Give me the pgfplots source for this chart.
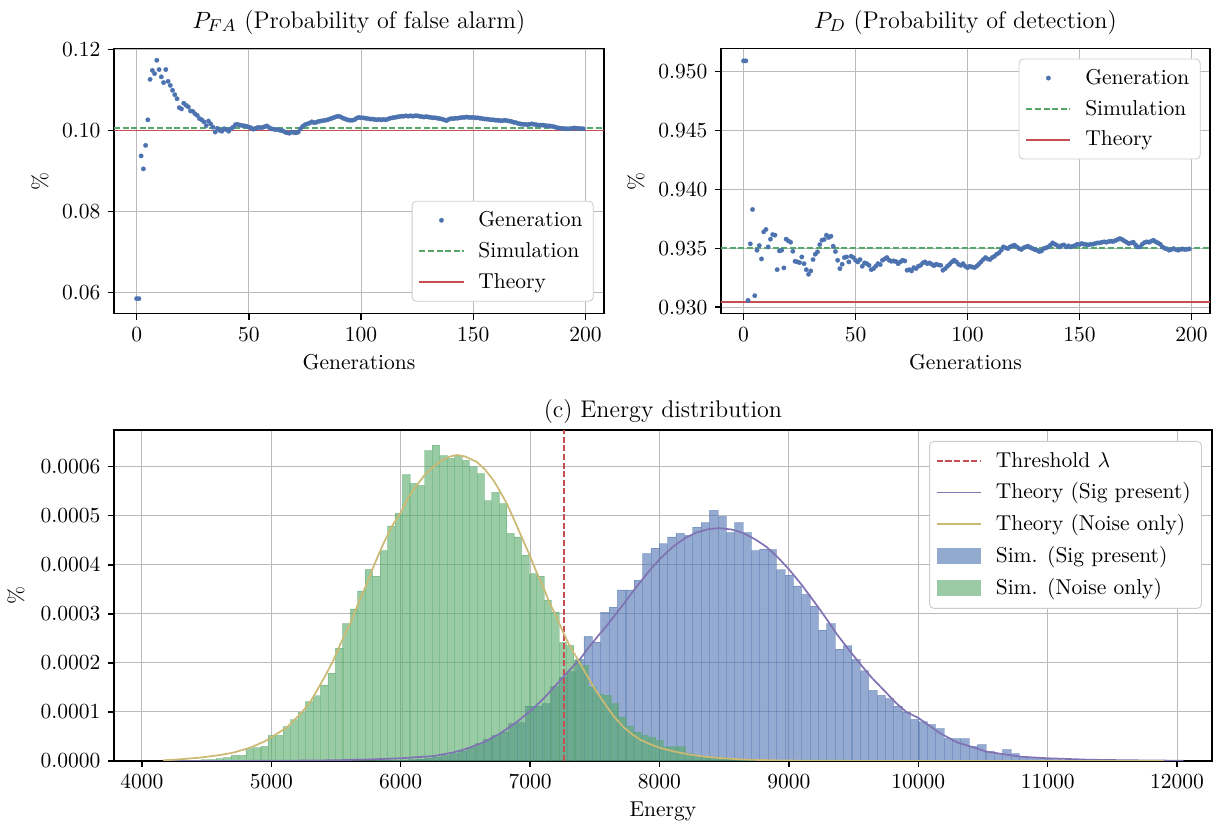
\documentclass[border=0pt]{standalone}
\usepackage{pgfplots}
\usepackage{pgfplotstable}
\pgfplotsset{compat=1.18}

% seaborn "deep" palette
\definecolor{sbblue}{HTML}{4C72B0}
\definecolor{sbgreen}{HTML}{55A868}
\definecolor{sbred}{HTML}{C44E52}
\definecolor{sbpurple}{HTML}{8172B3}
\definecolor{sbyellow}{HTML}{CCB974}

% running estimate of the false-alarm probability per generation
\pgfplotstableread{
g p
0 0.0585
1 0.0585
2 0.0937
3 0.0905
4 0.0963
5 0.1026
6 0.1126
7 0.1148
8 0.1140
9 0.1173
10 0.1150
11 0.1132
12 0.1118
13 0.1150
14 0.1121
15 0.1111
16 0.1099
17 0.1088
18 0.1078
19 0.1056
20 0.1053
21 0.1067
22 0.1062
23 0.1058
24 0.1048
25 0.1047
26 0.1041
27 0.1037
28 0.1029
29 0.1026
30 0.1021
31 0.1012
32 0.1023
33 0.1016
34 0.1008
35 0.0996
36 0.1005
37 0.1000
38 0.0998
39 0.1004
40 0.1002
41 0.0998
42 0.1004
43 0.1008
44 0.1014
45 0.1015
46 0.1013
47 0.1012
48 0.1011
49 0.1010
50 0.1008
51 0.1006
52 0.1003
53 0.1005
54 0.1007
55 0.1007
56 0.1007
57 0.1009
58 0.1011
59 0.1007
60 0.1004
61 0.1003
62 0.1002
63 0.1002
64 0.1000
65 0.0999
66 0.0996
67 0.0994
68 0.0993
69 0.0996
70 0.0995
71 0.0994
72 0.0996
73 0.1004
74 0.1010
75 0.1014
76 0.1016
77 0.1018
78 0.1021
79 0.1019
80 0.1020
81 0.1022
82 0.1023
83 0.1024
84 0.1025
85 0.1026
86 0.1028
87 0.1030
88 0.1032
89 0.1034
90 0.1035
91 0.1033
92 0.1030
93 0.1028
94 0.1026
95 0.1025
96 0.1025
97 0.1026
98 0.1030
99 0.1032
100 0.1031
101 0.1031
102 0.1030
103 0.1029
104 0.1028
105 0.1028
106 0.1027
107 0.1026
108 0.1027
109 0.1026
110 0.1027
111 0.1026
112 0.1028
113 0.1030
114 0.1031
115 0.1032
116 0.1033
117 0.1034
118 0.1035
119 0.1035
120 0.1036
121 0.1035
122 0.1036
123 0.1035
124 0.1036
125 0.1036
126 0.1035
127 0.1034
128 0.1033
129 0.1034
130 0.1033
131 0.1032
132 0.1031
133 0.1031
134 0.1030
135 0.1029
136 0.1028
137 0.1026
138 0.1024
139 0.1027
140 0.1029
141 0.1029
142 0.1030
143 0.1030
144 0.1031
145 0.1032
146 0.1032
147 0.1033
148 0.1032
149 0.1032
150 0.1032
151 0.1031
152 0.1031
153 0.1030
154 0.1029
155 0.1028
156 0.1028
157 0.1027
158 0.1026
159 0.1026
160 0.1025
161 0.1025
162 0.1024
163 0.1024
164 0.1025
165 0.1024
166 0.1023
167 0.1022
168 0.1020
169 0.1019
170 0.1017
171 0.1016
172 0.1015
173 0.1015
174 0.1014
175 0.1015
176 0.1016
177 0.1015
178 0.1014
179 0.1013
180 0.1013
181 0.1013
182 0.1012
183 0.1011
184 0.1011
185 0.1010
186 0.1009
187 0.1007
188 0.1006
189 0.1005
190 0.1005
191 0.1004
192 0.1004
193 0.1004
194 0.1005
195 0.1006
196 0.1005
197 0.1005
198 0.1004
199 0.1004
}\pfa

% running estimate of the detection probability per generation
\pgfplotstableread{
g p
0 0.9509
1 0.9509
2 0.93057
3 0.93537
4 0.93829
5 0.93097
6 0.93483
7 0.93523
8 0.93409
9 0.93639
10 0.93659
11 0.93511
12 0.93577
13 0.93616
14 0.93611
15 0.93318
16 0.93477
17 0.93483
18 0.93333
19 0.93577
20 0.93562
21 0.93551
22 0.93474
23 0.93389
24 0.93384
25 0.93378
26 0.93426
27 0.93369
28 0.93318
29 0.93279
30 0.93307
31 0.93404
32 0.93449
33 0.93469
34 0.93531
35 0.93568
36 0.93574
37 0.93611
38 0.93591
39 0.93602
40 0.93517
41 0.93472
42 0.93398
43 0.93327
44 0.93364
45 0.93421
46 0.93426
47 0.93384
48 0.93432
49 0.93421
50 0.93398
51 0.93384
52 0.93404
53 0.93347
54 0.93375
55 0.93369
56 0.93355
57 0.93318
58 0.93327
59 0.93347
60 0.93369
61 0.93361
62 0.93398
63 0.93409
64 0.93421
65 0.93398
66 0.93389
67 0.93392
68 0.93387
69 0.93369
70 0.93384
71 0.93398
72 0.93392
73 0.93313
74 0.93318
75 0.93307
76 0.93335
77 0.93327
78 0.93347
79 0.93355
80 0.93375
81 0.93384
82 0.93369
83 0.93375
84 0.93364
85 0.93352
86 0.93364
87 0.93358
88 0.93355
89 0.93313
90 0.93327
91 0.93347
92 0.93364
93 0.93384
94 0.93398
95 0.93384
96 0.93364
97 0.93355
98 0.93369
99 0.93347
100 0.93335
101 0.93347
102 0.93341
103 0.93335
104 0.93347
105 0.93364
106 0.93384
107 0.93404
108 0.93421
109 0.93409
110 0.93404
111 0.93421
112 0.93432
113 0.93449
114 0.93460
115 0.93483
116 0.93511
117 0.93503
118 0.93497
119 0.93511
120 0.93520
121 0.93526
122 0.93511
123 0.93497
124 0.93489
125 0.93503
126 0.93511
127 0.93517
128 0.93506
129 0.93497
130 0.93489
131 0.93483
132 0.93472
133 0.93477
134 0.93497
135 0.93503
136 0.93511
137 0.93526
138 0.93545
139 0.93534
140 0.93523
141 0.93511
142 0.93523
143 0.93528
144 0.93511
145 0.93520
146 0.93511
147 0.93517
148 0.93523
149 0.93534
150 0.93531
151 0.93540
152 0.93534
153 0.93531
154 0.93528
155 0.93534
156 0.93534
157 0.93540
158 0.93545
159 0.93545
160 0.93551
161 0.93554
162 0.93551
163 0.93557
164 0.93560
165 0.93557
166 0.93565
167 0.93574
168 0.93582
169 0.93574
170 0.93562
171 0.93551
172 0.93540
173 0.93545
174 0.93551
175 0.93528
176 0.93511
177 0.93511
178 0.93534
179 0.93548
180 0.93554
181 0.93551
182 0.93560
183 0.93568
184 0.93554
185 0.93545
186 0.93534
187 0.93511
188 0.93500
189 0.93494
190 0.93483
191 0.93489
192 0.93497
193 0.93489
194 0.93483
195 0.93489
196 0.93494
197 0.93489
198 0.93491
199 0.93494
}\pd

% simulated energy, signal present: bin centre and density (bin width 64.7)
\pgfplotstableread{
e d
5831 0.0000005
5896 0.000001
5961 0.0000015
6025 0.000002
6090 0.000003
6155 0.000004
6219 0.000006
6284 0.000008
6349 0.000011
6414 0.000015
6478 0.000020
6543 0.000027
6608 0.000035
6672 0.000044
6737 0.000052
6802 0.000059
6866 0.000076
6931 0.000078
6996 0.000112
7060 0.000112
7125 0.000117
7190 0.000152
7255 0.000171
7319 0.000182
7384 0.000207
7449 0.000254
7513 0.000243
7578 0.000303
7643 0.000314
7708 0.000349
7772 0.000349
7837 0.000369
7902 0.000423
7966 0.000434
8031 0.000443
8096 0.000457
8160 0.000464
8225 0.000460
8290 0.000477
8354 0.000486
8419 0.000511
8484 0.000499
8549 0.000466
8613 0.000486
8678 0.000466
8743 0.000429
8807 0.000432
8872 0.000431
8937 0.000390
9002 0.000379
9066 0.000357
9131 0.000340
9196 0.000316
9260 0.000267
9325 0.000280
9390 0.000228
9454 0.000235
9519 0.000207
9584 0.000184
9649 0.000144
9713 0.000134
9778 0.000127
9843 0.000112
9907 0.000100
9972 0.0000847
10037 0.0000800
10101 0.0000740
10166 0.0000660
10231 0.0000460
10296 0.0000456
10360 0.0000456
10425 0.0000300
10490 0.0000333
10554 0.0000197
10619 0.0000150
10684 0.0000231
10748 0.0000150
10813 0.0000095
10878 0.0000068
10942 0.0000050
11007 0.0000034
11072 0.0000025
11137 0.0000018
11201 0.0000012
11266 0.0000008
11331 0.0000005
11395 0.0000004
}\histsig

% simulated energy, noise only: bin centre and density (bin width 57.6)
\pgfplotstableread{
e d
4314 0.0000005
4371 0.000001
4429 0.0000015
4487 0.0000025
4544 0.000003
4602 0.000005
4660 0.000007
4717 0.0000116
4775 0.0000116
4832 0.000025
4890 0.000027
4948 0.000030
5005 0.000052
5063 0.000052
5120 0.000070
5178 0.000084
5236 0.000099
5293 0.000121
5351 0.000133
5409 0.000155
5466 0.000179
5524 0.000230
5581 0.000280
5639 0.000310
5696 0.000347
5754 0.000391
5812 0.000377
5869 0.000429
5927 0.000479
5984 0.000505
6042 0.000584
6099 0.000566
6157 0.000562
6215 0.000633
6272 0.000644
6330 0.000623
6387 0.000617
6445 0.000623
6503 0.000613
6560 0.000600
6618 0.000586
6675 0.000531
6733 0.000548
6791 0.000525
6848 0.000464
6906 0.000457
6963 0.000420
7021 0.000382
7079 0.000377
7136 0.000328
7194 0.000304
7251 0.000242
7309 0.000236
7367 0.000205
7424 0.000195
7482 0.000151
7539 0.000136
7597 0.000134
7655 0.000117
7712 0.000090
7770 0.000071
7828 0.000059
7885 0.000052
7943 0.000048
8000 0.000042
8058 0.000029
8115 0.000029
8173 0.000029
8231 0.000015
8288 0.000012
8346 0.000008
8403 0.000007
8461 0.000005
8519 0.000004
8576 0.000003
8634 0.000002
8691 0.0000015
8749 0.000001
}\histnoise

% theoretical densities
\pgfplotstableread{
e d
4165 0.0000014
4300 0.0000035
4448 0.0000068
4600 0.000012
4706 0.000017
4835 0.000027
4950 0.000040
5003 0.000049
5119 0.000068
5222 0.000095
5300 0.000120
5351 0.000143
5420 0.000175
5479 0.000205
5540 0.000242
5608 0.000280
5670 0.000320
5737 0.000361
5800 0.000403
5866 0.000443
5930 0.000478
6003 0.000508
6060 0.000538
6124 0.000562
6190 0.000585
6253 0.000600
6320 0.000614
6380 0.000621
6433 0.000624
6500 0.000621
6588 0.000610
6650 0.000595
6716 0.000573
6770 0.000549
6820 0.000525
6870 0.000496
6923 0.000464
7003 0.000416
7050 0.000385
7103 0.000354
7150 0.000323
7206 0.000293
7255 0.000263
7300 0.000238
7335 0.000222
7384 0.000200
7438 0.000175
7500 0.000147
7541 0.000131
7590 0.000112
7650 0.000090
7719 0.000070
7780 0.000056
7848 0.000044
7920 0.000035
8002 0.000027
8100 0.000020
8234 0.000013
8350 0.0000088
8492 0.0000055
8620 0.0000034
8749 0.0000022
8900 0.0000013
9007 0.0000008
9500 0.0000002
11900 0.0
}\thnoise

\pgfplotstableread{
e d
4165 0.0
4800 0.0000002
5200 0.0000007
5479 0.0000014
5750 0.0000030
6000 0.0000055
6253 0.000010
6400 0.000017
6510 0.000025
6640 0.000038
6768 0.000056
6890 0.000078
7003 0.000102
7100 0.000126
7232 0.000164
7300 0.000184
7387 0.000208
7460 0.000234
7541 0.000260
7590 0.000275
7670 0.000302
7745 0.000328
7830 0.000358
7925 0.000389
8010 0.000414
8105 0.000437
8200 0.000455
8285 0.000466
8380 0.000473
8466 0.000475
8560 0.000472
8646 0.000465
8740 0.000452
8826 0.000437
8920 0.000414
9007 0.000389
9100 0.000359
9187 0.000328
9280 0.000294
9367 0.000260
9460 0.000228
9548 0.000199
9640 0.000170
9750 0.000140
9830 0.000118
9908 0.000100
10000 0.000088
10166 0.000057
10300 0.000038
10423 0.000028
10527 0.000019
10681 0.000013
10800 0.0000085
11000 0.0000055
11325 0.0000025
11600 0.0000015
11892 0.0000008
12050 0.0000005
}\thsig

\pgfplotsset{
  sbaxis/.style={
    scale only axis,
    enlargelimits=false,
    axis line style={black, line width=0.7pt},
    grid=major,
    grid style={black!27, line width=0.45pt},
    tick align=outside,
    tick pos=left,
    major tick length=2.8pt,
    every tick/.style={black, line width=0.6pt},
    tick label style={font=\fontsize{10}{12}\selectfont},
    label style={font=\fontsize{10}{12}\selectfont},
    every axis title/.style={at={(axis description cs:0.5,1)}, anchor=base,
      font=\fontsize{11.2}{13.4}\selectfont},
    every axis x label/.style={at={(axis description cs:0.5,0)}, anchor=base, yshift=-25.8pt},
    legend cell align=left,
    legend style={draw=black!20, rounded corners=2pt, fill=white,
      font=\fontsize{10}{12}\selectfont, inner xsep=3pt, inner ysep=2.6pt,
      row sep=1.9pt, column sep=4.5pt},
    legend image code/.code={\draw[sharp corners, mark repeat=2, mark phase=2, #1]
      plot coordinates {(0pt,0pt) (10.25pt,0pt) (20.5pt,0pt)};},
  },
  gendots/.style={only marks, mark=*, mark size=1.05pt,
    mark options={fill=sbblue, draw=sbblue, line width=0.1pt}},
  simline/.style={draw=sbgreen, line width=0.8pt, dash pattern=on 2.8pt off 1.2pt},
  theoline/.style={draw=sbred, line width=0.8pt},
  histlegend/.style={legend image code/.code={\path[draw=none, sharp corners, fill=#1,
    fill opacity=0.6] (0pt,-3.6pt) rectangle (20.5pt,3.6pt);}},
}

\begin{document}
\begin{tikzpicture}
\useasboundingbox (0,0) rectangle (566pt,-383.7pt);

% (a) false alarm probability
\begin{axis}[sbaxis,
  at={(53pt,-22.55pt)}, anchor=north west,
  width=227.9pt, height=123.3pt,
  xmin=-10.1, xmax=208.2, ymin=0.0548, ymax=0.1202,
  xtick={0,50,100,150,200},
  ytick={0.06,0.08,0.10,0.12},
  scaled y ticks=false,
  yticklabel style={/pgf/number format/.cd, fixed, fixed zerofill, precision=2},
  title={$P_{FA}$ (Probability of false alarm)},
  title style={yshift=9.5pt},
  xlabel={Generations},
  ylabel={\%},
  every axis y label/.style={at={(axis description cs:-0.151,0.5)}, rotate=90, anchor=center},
  legend style={at={(0.979,0.045)}, anchor=south east},
]
\addplot[gendots] table[x=g, y=p] {\pfa};
\addlegendentry{Generation}
\addplot[simline] coordinates {(-10.1,0.1005) (208.2,0.1005)};
\addlegendentry{Simulation}
\addplot[theoline] coordinates {(-10.1,0.1000) (208.2,0.1000)};
\addlegendentry{Theory}
\end{axis}

% (b) detection probability
\begin{axis}[sbaxis,
  at={(335.3pt,-22.55pt)}, anchor=north west,
  width=227.4pt, height=123.3pt,
  xmin=-10.1, xmax=208.2, ymin=0.92945, ymax=0.95195,
  xtick={0,50,100,150,200},
  ytick={0.930,0.935,0.940,0.945,0.950},
  scaled y ticks=false,
  yticklabel style={/pgf/number format/.cd, fixed, fixed zerofill, precision=3},
  title={$P_{D}$ (Probability of detection)},
  title style={yshift=9.5pt},
  xlabel={Generations},
  ylabel={\%},
  every axis y label/.style={at={(axis description cs:-0.174,0.5)}, rotate=90, anchor=center},
  legend style={at={(0.981,0.962)}, anchor=north east},
]
\addplot[gendots] table[x=g, y=p] {\pd};
\addlegendentry{Generation}
\addplot[simline] coordinates {(-10.1,0.9350) (208.2,0.9350)};
\addlegendentry{Simulation}
\addplot[theoline] coordinates {(-10.1,0.93043) (208.2,0.93043)};
\addlegendentry{Theory}
\end{axis}

% (c) energy histograms and theoretical densities
\begin{axis}[sbaxis,
  at={(53pt,-200pt)}, anchor=north west,
  width=510.6pt, height=153.9pt,
  xmin=3784, xmax=12269, ymin=0, ymax=0.000675,
  xtick={4000,5000,6000,7000,8000,9000,10000,11000,12000},
  ytick={0,0.0001,0.0002,0.0003,0.0004,0.0005,0.0006},
  scaled x ticks=false, scaled y ticks=false,
  xticklabel style={/pgf/number format/.cd, set thousands separator={}},
  yticklabel style={/pgf/number format/.cd, fixed, fixed zerofill, precision=4},
  title={(c) Energy distribution},
  title style={yshift=5.7pt},
  xlabel={Energy},
  ylabel={\%},
  every axis y label/.style={at={(axis description cs:-0.0893,0.5)}, rotate=90, anchor=center},
  legend style={at={(0.991,0.967)}, anchor=north east, row sep=1.8pt, inner ysep=3pt},
]
\addplot[ybar, bar width=64.7, bar shift=0pt, fill=sbblue, fill opacity=0.6,
  draw=sbblue, draw opacity=0.4, line width=0.3pt, forget plot] table[x=e, y=d] {\histsig};
\addplot[ybar, bar width=57.6, bar shift=0pt, fill=sbgreen, fill opacity=0.6,
  draw=sbgreen, draw opacity=0.4, line width=0.3pt, forget plot] table[x=e, y=d] {\histnoise};
\addplot[draw=sbred, line width=0.8pt, dash pattern=on 2.8pt off 1.2pt] coordinates {(7263,0) (7263,0.000675)};
\addlegendentry{Threshold $\lambda$}
\addplot[draw=sbpurple, line width=0.8pt] table[x=e, y=d] {\thsig};
\addlegendentry{Theory (Sig present)}
\addplot[draw=sbyellow, line width=0.8pt] table[x=e, y=d] {\thnoise};
\addlegendentry{Theory (Noise only)}
\addlegendimage{histlegend=sbblue}
\addlegendentry{Sim. (Sig present)}
\addlegendimage{histlegend=sbgreen}
\addlegendentry{Sim. (Noise only)}
\end{axis}
\end{tikzpicture}
\end{document}
